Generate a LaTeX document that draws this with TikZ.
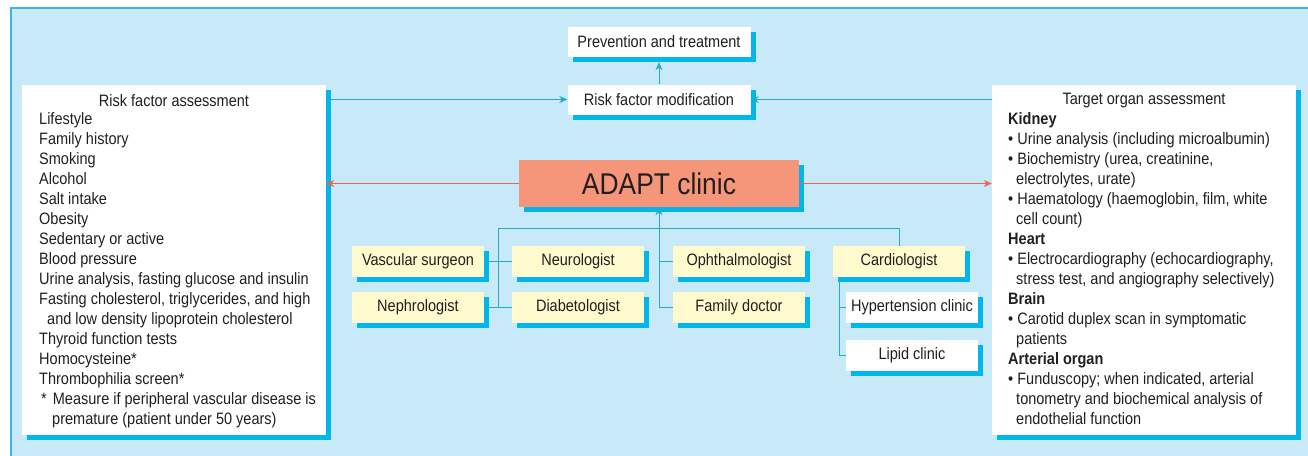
\documentclass[tikz,border=0pt]{standalone}
\usepackage{fontspec}
\setmainfont{Liberation Sans}[FakeStretch=0.88]
\usepackage{tikz}
\usetikzlibrary{arrows.meta,positioning,shadows,calc}
\definecolor{panelblue}{HTML}{C7E9F8}
\definecolor{panelline}{HTML}{3DB5E2}
\definecolor{shadowcyan}{HTML}{00B6ED}
\definecolor{linkteal}{HTML}{23ADC2}
\definecolor{linkred}{HTML}{EE6450}
\definecolor{adaptfill}{HTML}{F5967A}
\definecolor{specfill}{HTML}{FFFACD}
\definecolor{inkgray}{HTML}{231F20}
\tikzset{
  cyanshadow/.style={drop shadow={shadow xshift=5pt, shadow yshift=-5pt, fill=shadowcyan, opacity=1}},
  panelbox/.style={fill=white, cyanshadow, inner sep=0pt},
  plainbox/.style={fill=white, cyanshadow, minimum width=183pt, minimum height=30pt, inner sep=0pt, font=\fontsize{16.5}{20}\selectfont, text=inkgray},
  spec/.style={fill=specfill, cyanshadow, minimum width=132pt, minimum height=31pt, inner sep=0pt, font=\fontsize{16.5}{20}\selectfont, text=inkgray},
  clinic/.style={fill=white, cyanshadow, minimum width=132pt, minimum height=31pt, inner sep=0pt, font=\fontsize{16.5}{20}\selectfont, text=inkgray},
  hub/.style={fill=adaptfill, cyanshadow, minimum width=280pt, minimum height=47pt, inner sep=0pt, font=\fontsize{30}{34}\selectfont, text=inkgray},
  boxhead/.style={inner sep=0pt, font=\fontsize{16.5}{20}\selectfont, text=inkgray},
  boxlist/.style={inner sep=0pt, align=left, font=\fontsize{16.5}{20}\selectfont, text=inkgray},
  link/.style={linkteal, line width=1pt},
  arrow/.style={linkteal, line width=1pt, -{Stealth[length=8pt,width=7pt]}},
  redarrow/.style={linkred, line width=1pt, -{Stealth[length=8pt,width=7pt]}}
}
\begin{document}
\begin{tikzpicture}[x=1pt,y=-1pt]
  \useasboundingbox (0,0) rectangle (1308,455);
  \fill[panelblue] (11,8) rectangle (1320,470);
  \draw[panelline, line width=1.5pt] (11,470) -- (11,8) -- (1320,8);

  \node[panelbox, minimum width=304pt, minimum height=350pt] (risk) at (174,260) {};
  \node[boxhead] (riskhead) at (174,100.5) {Risk factor assessment};
  \node[boxlist, anchor=north west] (risklist) at (39,112.5) {Lifestyle\\ Family history\\ Smoking\\ Alcohol\\ Salt intake\\ Obesity\\ Sedentary or active\\ Blood pressure\\ Urine analysis, fasting glucose and insulin\\ Fasting cholesterol, triglycerides, and high\\ \hspace*{8pt}and low density lipoprotein cholesterol\\ Thyroid function tests\\ Homocysteine*\\ Thrombophilia screen*\\ \hspace*{2pt}*\hspace*{6pt}Measure if peripheral vascular disease is\\ \hspace*{13pt}premature (patient under 50 years)};

  \node[panelbox, minimum width=304pt, minimum height=350pt] (target) at (1144,260) {};
  \node[boxhead] (targethead) at (1144,100.5) {Target organ assessment};
  \node[boxlist, anchor=north west] (targetlist) at (1008,112.5) {\textbf{Kidney}\\ • Urine analysis (including microalbumin)\\ • Biochemistry (urea, creatinine,\\ \hspace*{8pt}electrolytes, urate)\\ • Haematology (haemoglobin, film, white\\ \hspace*{8pt}cell count)\\ \textbf{Heart}\\ • Electrocardiography (echocardiography,\\ \hspace*{8pt}stress test, and angiography selectively)\\ \textbf{Brain}\\ • Carotid duplex scan in symptomatic\\ \hspace*{8pt}patients\\ \textbf{Arterial organ}\\ • Funduscopy; when indicated, arterial\\ \hspace*{8pt}tonometry and biochemical analysis of\\ \hspace*{8pt}endothelial function};

  \node[plainbox] (prev) at (659,42) {Prevention and treatment};
  \node[plainbox] (rfm) at (659,99.5) {Risk factor modification};
  \node[hub] (adapt) at (659,183.5) {ADAPT clinic};

  \node[spec] (vasc) at (418,261.5) {Vascular surgeon};
  \node[spec] (neph) at (418,307.5) {Nephrologist};
  \node[spec] (neuro) at (578,261.5) {Neurologist};
  \node[spec] (diab) at (578,307.5) {Diabetologist};
  \node[spec] (ophth) at (739,261.5) {Ophthalmologist};
  \node[spec] (famdoc) at (739,307.5) {Family doctor};
  \node[spec] (cardio) at (899,261.5) {Cardiologist};
  \node[clinic] (hyper) at (912,307.5) {Hypertension clinic};
  \node[clinic] (lipid) at (912,355.5) {Lipid clinic};

  \coordinate (busL) at (498,228);
  \coordinate (cardtap) at ([xshift=7pt]cardio.south west);

  \draw[arrow] (risk.east |- rfm.west) -- (rfm.west);
  \draw[arrow] (target.west |- rfm.east) -- (rfm.east);
  \draw[arrow] (rfm.north) -- ([yshift=-5pt]prev.south);
  \draw[redarrow] (adapt.west) -- (adapt.west -| risk.east);
  \draw[redarrow] (adapt.east) -- (adapt.east -| target.west);

  \draw[link] (cardio.north) |- (busL) |- (neph.east);
  \draw[link] (neph.east) -- (diab.west);
  \draw[link] (vasc.east) -- (neuro.west);
  \draw[arrow] (famdoc.west) -| (adapt.south);
  \draw[link] (ophth.west) -- (ophth.west -| adapt.south);
  \draw[link] (cardtap) |- (lipid.west);
  \draw[link] (hyper.west) -- (hyper.west -| cardtap);
\end{tikzpicture}
\end{document}
